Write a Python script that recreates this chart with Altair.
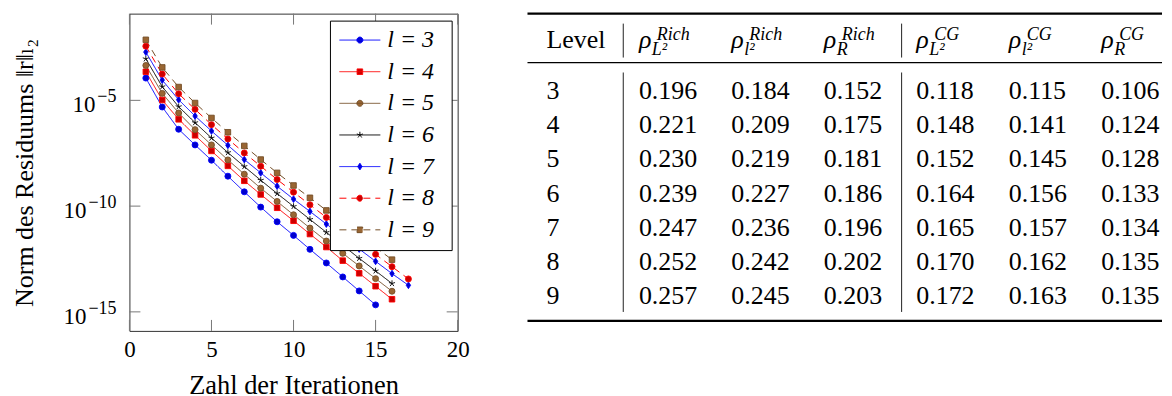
import altair as alt
import pandas as pd

FONT = "Liberation Serif, DejaVu Serif, serif"

# ---------------- data: residual norms per level ----------------
levels = [3, 4, 5, 6, 7, 8, 9]
res_l3 = [1.13e-4, 4.85e-6, 4.29e-7, 7.82e-8, 1.48e-8, 2.60e-9, 4.74e-10, 8.97e-11,
          1.82e-11, 4.13e-12, 9.03e-13, 2.05e-13, 4.48e-14, 9.79e-15, 2.14e-15]
res_l4 = [2.25e-4, 1.04e-5, 1.27e-6, 2.23e-7, 4.07e-8, 8.00e-9, 1.57e-9, 3.55e-10,
          8.34e-11, 2.03e-11, 4.78e-12, 1.16e-12, 2.64e-13, 6.67e-14, 1.63e-14, 3.95e-15]
res_l5 = [4.48e-4, 2.14e-5, 2.53e-6, 4.13e-7, 7.82e-8, 1.53e-8, 3.23e-9, 7.06e-10,
          1.66e-10, 3.90e-11, 9.16e-12, 2.23e-12, 5.85e-13, 1.48e-13, 3.73e-14, 9.44e-15]
res_l6 = [9.23e-4, 4.42e-5, 5.02e-6, 8.85e-7, 1.67e-7, 3.40e-8, 7.43e-9, 1.68e-9,
          3.95e-10, 9.64e-11, 2.35e-11, 5.73e-12, 1.40e-12, 3.40e-13, 8.65e-14, 2.19e-14]
res_l7 = [1.91e-3, 9.10e-5, 1.07e-5, 1.82e-6, 3.57e-7, 7.53e-8, 1.59e-8, 3.73e-9,
          8.77e-10, 2.14e-10, 5.60e-11, 1.42e-11, 3.71e-12, 9.38e-13, 2.45e-13, 6.43e-14, 1.81e-14]
res_l8 = [3.66e-3, 1.75e-4, 2.06e-5, 3.76e-6, 7.11e-7, 1.50e-7, 3.28e-8, 7.71e-9,
          1.81e-9, 4.57e-10, 1.16e-10, 2.92e-11, 7.66e-12, 2.00e-12, 5.25e-13, 1.37e-13, 3.61e-14]
res_l9 = [7.28e-3, 3.61e-4, 4.26e-5, 7.48e-6, 1.47e-6, 3.10e-7, 7.02e-8, 1.59e-8,
          3.73e-9, 9.44e-10, 2.47e-10, 6.25e-11, 1.64e-11, 4.29e-12, 1.12e-12, 2.94e-13]
series = [res_l3, res_l4, res_l5, res_l6, res_l7, res_l8, res_l9]

xtick_vals = [0, 5, 10, 15, 20]
ytick_vals = [1e-5, 1e-10, 1e-15]
ytick_exps = ["\u22125", "\u221210", "\u221215"]

# ---------------- table data ----------------
table_levels = [3, 4, 5, 6, 7, 8, 9]
rich_L2 = [0.196, 0.221, 0.230, 0.239, 0.247, 0.252, 0.257]
rich_l2 = [0.184, 0.209, 0.219, 0.227, 0.236, 0.242, 0.245]
rich_R = [0.152, 0.175, 0.181, 0.186, 0.196, 0.202, 0.203]
cg_L2 = [0.118, 0.148, 0.152, 0.164, 0.165, 0.170, 0.172]
cg_l2 = [0.115, 0.141, 0.145, 0.156, 0.157, 0.162, 0.163]
cg_R = [0.106, 0.124, 0.128, 0.133, 0.134, 0.135, 0.135]
hdr_main = ["Level", "\u03c1", "\u03c1", "\u03c1", "\u03c1", "\u03c1", "\u03c1"]
hdr_sup = ["", "Rich", "Rich", "Rich", "CG", "CG", "CG"]
hdr_sub = ["", "L\u00b2", "l\u00b2", "R", "L\u00b2", "l\u00b2", "R"]

# ---------------- styles ----------------
line_colors = ["#0000ff", "#ff0000", "#734d26", "#000000", "#0000ff", "#ff0000", "#734d26"]
mark_fills = ["#0000cc", "#cc0000", "#996633", "#000000", "#0000cc", "#cc0000", "#996633"]
dash_styles = [[1, 0], [1, 0], [1, 0], [1, 0], [1, 0], [7, 5], [7, 5]]
STAR = "M0,0L0,-1M0,0L0.951,-0.309M0,0L0.588,0.809M0,0L-0.588,0.809M0,0L-0.951,-0.309"
DIAMOND = "M0,-1L0.65,0L0,1L-0.65,0Z"
mark_shapes = ["circle", "square", "circle", STAR, DIAMOND, "circle", "square"]
mark_sizes = [36, 31, 36, 41, 46, 36, 31]

LINE = "M-2,0H6.2"
L_CIRC = "M1.5,0A0.6,0.6 0 1,1 2.7,0A0.6,0.6 0 1,1 1.5,0Z"
L_SQ = "M1.54,-0.56H2.66V0.56H1.54Z"
L_STAR = ("M2.1,0L2.1,-0.64M2.1,0L2.709,-0.198M2.1,0L2.476,0.518"
          "M2.1,0L1.724,0.518M2.1,0L1.491,-0.198")
L_DIA = "M2.1,-0.68L2.54,0L2.1,0.68L1.66,0Z"
legend_paths = [LINE + L_CIRC, LINE + L_SQ, LINE + L_CIRC, LINE + L_STAR,
                LINE + L_DIA, LINE + L_CIRC, LINE + L_SQ]

rows = []
for lv, vals in zip(levels, series):
    for i, v in enumerate(vals, start=1):
        rows.append({"l": lv, "it": i, "res": v})
df = pd.DataFrame(rows)

W, H = 329, 318

x_axis = alt.Axis(values=xtick_vals, ticks=False, tickSize=0, domain=False, grid=False,
                  labelFont=FONT, labelFontSize=23, labelColor="black", labelPadding=8,
                  labelFlush=False, title="Zahl der Iterationen", titleFont=FONT,
                  titleFontSize=26.5, titleFontWeight="normal", titleColor="black",
                  titlePadding=11)
y_axis = alt.Axis(labels=False, ticks=False, tickSize=0, domain=False, grid=False,
                  title="Norm des Residuums \u2016r\u2016\u2097\u2082", titleFont=FONT,
                  titleFontSize=26, titleFontWeight="normal", titleColor="black",
                  titlePadding=92)
x_enc = alt.X("it:Q", scale=alt.Scale(domain=[0, 20], nice=False, zero=False), axis=x_axis)
y_enc = alt.Y("res:Q", scale=alt.Scale(type="log", domain=[1.259e-16, 0.1259], nice=False),
              axis=y_axis)

leg = alt.Legend(title="\u200b", titleOrient="right", titlePadding=10, titleFontSize=1,
                 orient="none", legendX=201, legendY=7, padding=7.5,
                 rowPadding=7.7, labelFont=FONT, labelFontSize=24, labelFontStyle="italic",
                 labelColor="black", labelOffset=26, labelExpr="'l = ' + datum.label",
                 symbolSize=100, symbolStrokeWidth=1, symbolOpacity=1,
                 strokeColor="black", fillColor="white", cornerRadius=0, zindex=1)

s_stroke = alt.Scale(domain=levels, range=line_colors)
s_fill = alt.Scale(domain=levels, range=mark_fills)
s_dash = alt.Scale(domain=levels, range=dash_styles)
s_shape = alt.Scale(domain=levels, range=legend_paths)

lines = alt.Chart(df).mark_line(strokeWidth=1).encode(
    x=x_enc, y=y_enc,
    stroke=alt.Stroke("l:N", scale=s_stroke, legend=leg),
    strokeDash=alt.StrokeDash("l:N", scale=s_dash, legend=leg),
)

point_layers = []
for lv, shp, sz in zip(levels, mark_shapes, mark_sizes):
    point_layers.append(
        alt.Chart(df).transform_filter(alt.datum.l == lv)
        .mark_point(filled=True, shape=shp, size=sz, strokeWidth=0.9, opacity=1)
        .encode(x=x_enc, y=y_enc,
                fill=alt.Fill("l:N", scale=s_fill, legend=leg),
                stroke=alt.Stroke("l:N", scale=s_stroke, legend=leg))
    )

legend_layer = alt.Chart(df).mark_point(filled=True, opacity=0).encode(
    x=x_enc, y=y_enc,
    fill=alt.Fill("l:N", scale=s_fill, legend=leg),
    stroke=alt.Stroke("l:N", scale=s_stroke, legend=leg),
    shape=alt.Shape("l:N", scale=s_shape, legend=leg),
    strokeDash=alt.StrokeDash("l:N", scale=s_dash, legend=leg),
)

xt_df = pd.DataFrame({"it": xtick_vals})
yt_df = pd.DataFrame({"res": ytick_vals, "e": ytick_exps})
TICK = "#777777"
xt_bottom = alt.Chart(xt_df).mark_rule(color=TICK, strokeWidth=1).encode(
    x=x_enc, y=alt.value(H), y2=alt.value(H - 11))
xt_top = alt.Chart(xt_df).mark_rule(color=TICK, strokeWidth=1).encode(
    x=x_enc, y=alt.value(0), y2=alt.value(11))
yt_left = alt.Chart(yt_df).mark_rule(color=TICK, strokeWidth=1).encode(
    y=y_enc, x=alt.value(0), x2=alt.value(11))
yt_right = alt.Chart(yt_df).mark_rule(color=TICK, strokeWidth=1).encode(
    y=y_enc, x=alt.value(W - 11), x2=alt.value(W))

ten_short = alt.Chart(yt_df).transform_filter("length(datum.e) == 2").mark_text(
    text="10", align="right", baseline="alphabetic", dy=12, font=FONT, fontSize=23,
    color="black").encode(y=y_enc, x=alt.value(-34))
ten_long = alt.Chart(yt_df).transform_filter("length(datum.e) > 2").mark_text(
    text="10", align="right", baseline="alphabetic", dy=12, font=FONT, fontSize=23,
    color="black").encode(y=y_enc, x=alt.value(-43))
exps = alt.Chart(yt_df).mark_text(
    align="right", baseline="alphabetic", dy=2, font=FONT, fontSize=18,
    color="black").encode(y=y_enc, x=alt.value(-13), text="e:N")

left = alt.layer(lines, *point_layers, legend_layer, xt_bottom, xt_top, yt_left, yt_right,
                 ten_short, ten_long, exps).properties(
    width=W, height=H, view=alt.ViewBackground(stroke="#333333", strokeWidth=1))

# ---------------- table ----------------
TW, TH = 636, 308
cols = [table_levels, rich_L2, rich_l2, rich_R, cg_L2, cg_l2, cg_R]
trows = []
for r, lv in enumerate(table_levels):
    trows.append({"c": 0, "lvl": lv, "t": str(lv)})
    for ci in range(1, 7):
        trows.append({"c": ci, "lvl": lv, "t": f"{cols[ci][r]:.3f}"})
tdf = pd.DataFrame(trows)
hdf = pd.DataFrame({"c": list(range(7)), "m": hdr_main, "sup": hdr_sup, "sub": hdr_sub})

tx = alt.X("c:Q", scale=alt.Scale(domain=[-0.205, 6.658], nice=False, zero=False), axis=None)
ty = alt.Y("lvl:Q", scale=alt.Scale(domain=[0.745, 9.717], nice=False, zero=False,
                                     reverse=True), axis=None)

cells = alt.Chart(tdf).mark_text(align="left", baseline="middle", font=FONT, fontSize=26,
                                 color="black").encode(x=tx, y=ty, text="t:N")
h_level = alt.Chart(hdf).transform_filter("datum.c == 0").mark_text(
    align="left", baseline="alphabetic", font=FONT, fontSize=26, color="black").encode(
    x=tx, y=alt.value(34), text="m:N")
h_rho = alt.Chart(hdf).transform_filter("datum.c > 0").mark_text(
    align="left", baseline="alphabetic", font=FONT, fontSize=26, fontStyle="italic",
    color="black").encode(x=tx, y=alt.value(34), text="m:N")
h_sup = alt.Chart(hdf).transform_filter("datum.c > 0").mark_text(
    align="left", baseline="alphabetic", font=FONT, fontSize=18, fontStyle="italic",
    dx=18, color="black").encode(x=tx, y=alt.value(26), text="sup:N")
h_sub = alt.Chart(hdf).transform_filter("datum.c > 0").mark_text(
    align="left", baseline="alphabetic", font=FONT, fontSize=18, fontStyle="italic",
    dx=13, color="black").encode(x=tx, y=alt.value(41), text="sub:N")

rule_src = pd.DataFrame({"k": [0]})
top_rule = alt.Chart(rule_src).mark_rule(color="black", strokeWidth=2.2).encode(
    x=alt.value(0), x2=alt.value(TW), y=alt.value(0))
mid_rule = alt.Chart(rule_src).mark_rule(color="black", strokeWidth=1.3).encode(
    x=alt.value(0), x2=alt.value(TW), y=alt.value(49))
bot_rule = alt.Chart(rule_src).mark_rule(color="black", strokeWidth=2.2).encode(
    x=alt.value(0), x2=alt.value(TW), y=alt.value(TH))
vlines = []
for vx in (96, 375):
    vlines.append(alt.Chart(rule_src).mark_rule(color="#222222", strokeWidth=1).encode(
        x=alt.value(vx), y=alt.value(10), y2=alt.value(44)))
    vlines.append(alt.Chart(rule_src).mark_rule(color="#222222", strokeWidth=1).encode(
        x=alt.value(vx), y=alt.value(59), y2=alt.value(299)))

table = alt.layer(top_rule, mid_rule, bot_rule, *vlines, cells, h_level, h_rho, h_sup,
                  h_sub).properties(
    width=TW, height=TH, view=alt.ViewBackground(stroke="transparent"))

chart = alt.hconcat(left, table, spacing=70, bounds="flush").resolve_scale(
    fill="independent", stroke="independent", shape="independent",
    strokeDash="independent", x="independent", y="independent"
).properties(
    padding={"left": 2.7, "top": 3.2, "right": 0, "bottom": 0}, background="white"
)

chart.save("out.html", embed_options={"renderer": "svg", "actions": False})
